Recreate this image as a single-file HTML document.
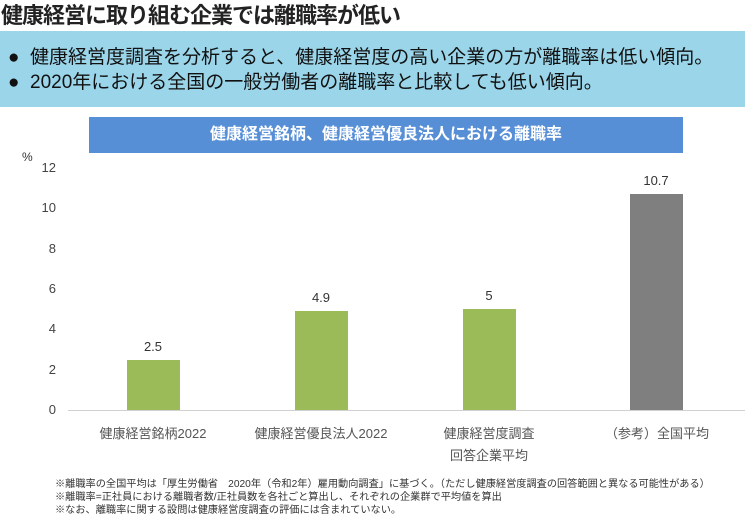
<!DOCTYPE html>
<html><head><meta charset="utf-8"><style>
body{margin:0;width:745px;height:518px;background:#fff;position:relative;overflow:hidden;font-family:"Liberation Sans","Noto Sans CJK JP",sans-serif;color:#222}
.a{position:absolute;white-space:nowrap}
.bar{position:absolute;width:53px}
.v{position:absolute;width:80px;text-align:center;font-size:13px;color:#333}
.c{position:absolute;width:170px;text-align:center;font-size:13px;color:#555;line-height:22px}
.y{position:absolute;left:28px;width:28px;text-align:right;font-size:13px;color:#444}
.f{position:absolute;left:55px;font-size:10.2px;color:#333}
</style></head><body>
<div class="a" style="left:1px;top:-2px;font-size:22px;font-weight:bold;color:#222;letter-spacing:-1px">健康経営に取り組む企業では離職率が低い</div>
<div class="a" style="left:0;top:31px;width:745px;height:76px;background:#9AD5EA"></div>
<div class="a" style="left:8px;top:42px;font-size:19px;color:#111">●&nbsp; 健康経営度調査を分析すると、健康経営度の高い企業の方が離職率は低い傾向。</div>
<div class="a" style="left:8px;top:67px;font-size:19px;color:#111">●&nbsp; 2020年における全国の一般労働者の離職率と比較しても低い傾向。</div>
<div class="a" style="left:89px;top:117px;width:594px;height:36px;background:#578FD7;color:#fff;font-size:16px;font-weight:bold;text-align:center;line-height:36px">健康経営銘柄、健康経営優良法人における離職率</div>
<div class="a" style="left:22px;top:150px;font-size:12px;color:#333">%</div>
<div class="y" style="top:160px">12</div>
<div class="y" style="top:200px">10</div>
<div class="y" style="top:241px">8</div>
<div class="y" style="top:281px">6</div>
<div class="y" style="top:321px">4</div>
<div class="y" style="top:362px">2</div>
<div class="y" style="top:402px">0</div>
<div class="a" style="left:68px;top:410px;width:677px;height:1px;background:#d0d0d0"></div>
<div class="bar" style="left:127px;top:360px;height:50px;background:#9BBB59"></div>
<div class="bar" style="left:295px;top:311px;height:99px;background:#9BBB59"></div>
<div class="bar" style="left:463px;top:309px;height:101px;background:#9BBB59"></div>
<div class="bar" style="left:630px;top:194px;height:216px;background:#7F7F7F"></div>
<div class="v" style="left:113px;top:339px">2.5</div>
<div class="v" style="left:281px;top:290px">4.9</div>
<div class="v" style="left:449px;top:288px">5</div>
<div class="v" style="left:616px;top:173px">10.7</div>
<div class="c" style="left:68px;top:423px">健康経営銘柄2022</div>
<div class="c" style="left:236px;top:423px">健康経営優良法人2022</div>
<div class="c" style="left:404px;top:423px">健康経営度調査<br>回答企業平均</div>
<div class="c" style="left:572px;top:423px">（参考）全国平均</div>
<div class="f" style="top:475px">※離職率の全国平均は「厚生労働省　2020年（令和2年）雇用動向調査」に基づく。（ただし健康経営度調査の回答範囲と異なる可能性がある）</div>
<div class="f" style="top:488px">※離職率=正社員における離職者数/正社員数を各社ごと算出し、それぞれの企業群で平均値を算出</div>
<div class="f" style="top:501px">※なお、離職率に関する設問は健康経営度調査の評価には含まれていない。</div>
</body></html>
